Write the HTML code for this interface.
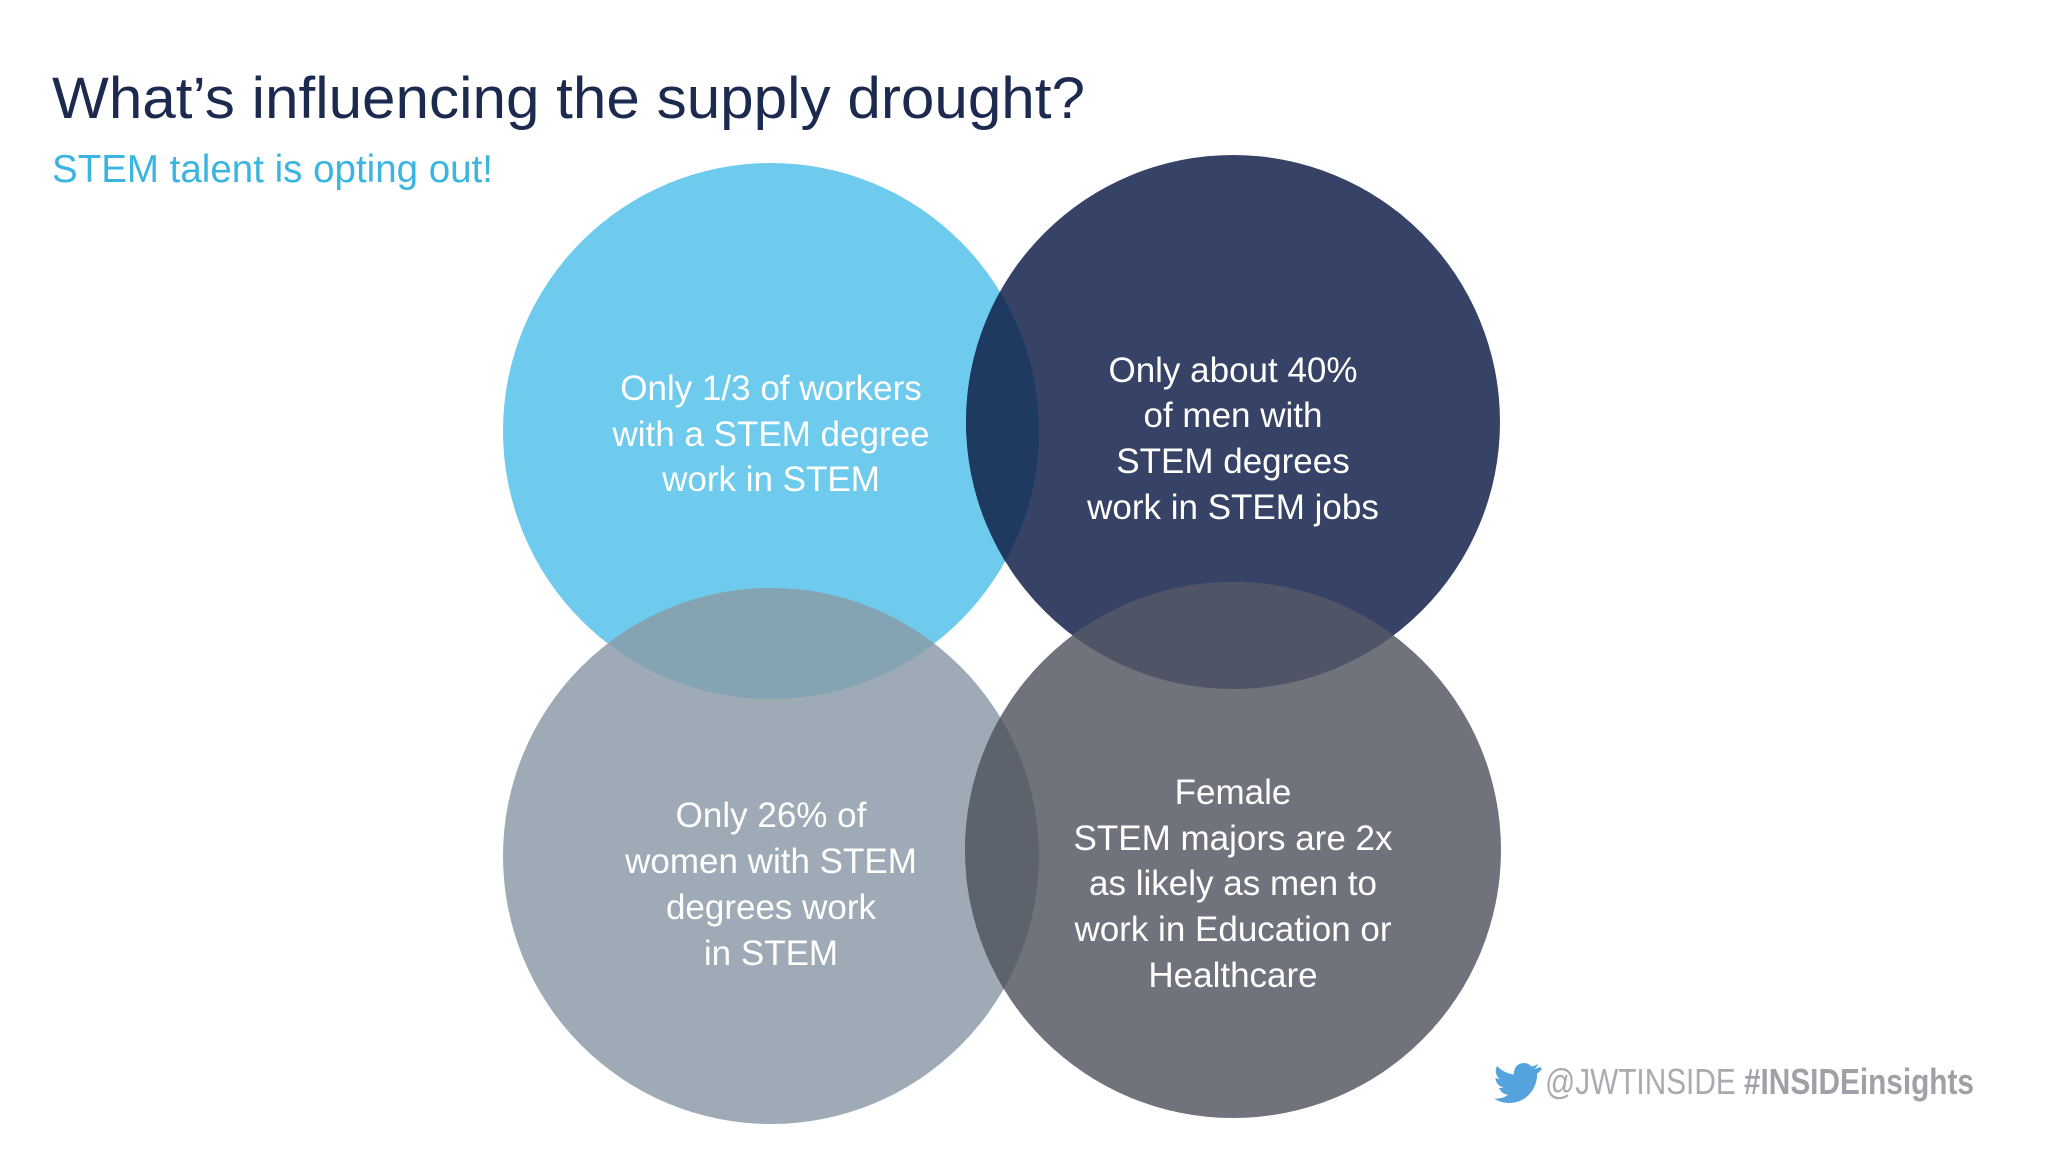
<!DOCTYPE html>
<html><head><meta charset="utf-8"><style>
html,body{margin:0;padding:0;background:#fff;}
svg{display:block;}
text{font-family:"Liberation Sans",sans-serif;}
</style></head><body>
<svg width="2048" height="1152" viewBox="0 0 2048 1152">
<defs>
<clipPath id="cTL"><circle cx="771" cy="431" r="268"/></clipPath>
<clipPath id="cTR"><circle cx="1233" cy="422" r="267"/></clipPath>
<clipPath id="cBL"><circle cx="771" cy="856" r="268"/></clipPath>
</defs>
<rect width="2048" height="1152" fill="#fff"/>
<text x="52" y="118" font-size="58" fill="#1b2a4e" textLength="1033" lengthAdjust="spacingAndGlyphs">What’s influencing the supply drought?</text>
<text x="52" y="182" font-size="39" fill="#3ab4e0" textLength="441" lengthAdjust="spacingAndGlyphs">STEM talent is opting out!</text>

<circle cx="771" cy="431" r="268" fill="#6ecbee"/>
<circle cx="1233" cy="422" r="267" fill="#364266"/>
<circle cx="771" cy="856" r="268" fill="#9eabb6"/>
<circle cx="1233" cy="850" r="268" fill="#70737c"/>
<g clip-path="url(#cTL)"><circle cx="1233" cy="422" r="267" fill="#1e3a60"/>
<circle cx="771" cy="856" r="268" fill="#84a3b3"/></g>
<g clip-path="url(#cTR)"><circle cx="1233" cy="850" r="268" fill="#4f5566"/></g>
<g clip-path="url(#cBL)"><circle cx="1233" cy="850" r="268" fill="#5d636c"/></g>

<g fill="#fff" font-size="35" text-anchor="middle">
<text><tspan x="771" y="400">Only 1/3 of workers</tspan><tspan x="771" y="446">with a STEM degree</tspan><tspan x="771" y="491">work in STEM</tspan></text>
<text><tspan x="1233" y="382">Only about 40%</tspan><tspan x="1233" y="427">of men with</tspan><tspan x="1233" y="473">STEM degrees</tspan><tspan x="1233" y="519">work in STEM jobs</tspan></text>
<text><tspan x="771" y="827">Only 26% of</tspan><tspan x="771" y="873">women with STEM</tspan><tspan x="771" y="919">degrees work</tspan><tspan x="771" y="965">in STEM</tspan></text>
<text><tspan x="1233" y="804">Female</tspan><tspan x="1233" y="850">STEM majors are 2x</tspan><tspan x="1233" y="895">as likely as men to</tspan><tspan x="1233" y="941">work in Education or</tspan><tspan x="1233" y="987">Healthcare</tspan></text>
</g>

<g transform="translate(1494,1061)">
<path d="M46 6c-2 1-4 1.5-6 2 2-1.3 3.5-3 4-5-2 1.2-4 2-6.5 2.5A10 10 0 0 0 20 13.5 28 28 0 0 1 3 5a10 10 0 0 0 3 13c-1.6 0-3.2-.5-4.5-1.2 0 4.8 3.4 8.800 8 9.700-1.500.4-3 .5-4.500.2 1.300 4 5 6.800 9.300 6.900A20 20 0 0 1 0 37.500 28 28 0 0 0 15 42c18 0 28-15 28-28v-1.300c2-1.400 3.600-3 5-5z" fill="#55a3dc"/>
</g>
<text x="1545" y="1094" font-size="36" textLength="429" lengthAdjust="spacingAndGlyphs"><tspan fill="#a9abb0">@JWTINSIDE </tspan><tspan fill="#9fa1a6" font-weight="bold">#INSIDEinsights</tspan></text>
</svg>
</body></html>
